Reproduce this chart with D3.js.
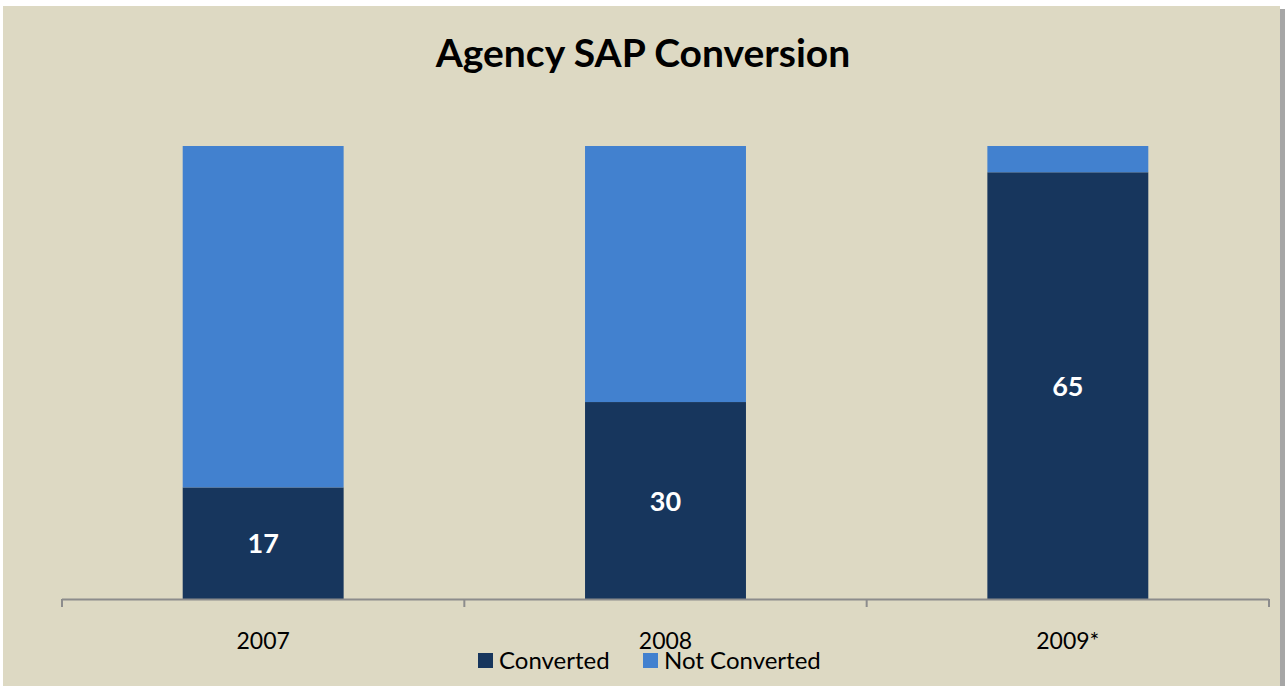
<!DOCTYPE html>
<html><head><meta charset="utf-8">
<script src="https://cdn.jsdelivr.net/npm/d3@7"></script>
<style>
html,body{margin:0;padding:0;background:#fff;}
svg{display:block;}
</style></head><body>
<svg id="chart" width="1285" height="686"></svg>
<script>
const categories = ["2007", "2008", "2009*"];
const converted = [17, 30, 65];
const notConverted = [52, 39, 4];
const seriesNames = ["Converted", "Not Converted"];
const colors = ["#17365D", "#4281CF"];

const svg = d3.select("#chart");
// panel background with shadow
svg.append("rect").attr("x", 1279).attr("y", 9).attr("width", 6).attr("height", 677).attr("fill", "#a6a6a6");
svg.append("rect").attr("x", 3).attr("y", 6).attr("width", 1277).attr("height", 680).attr("fill", "#DDD9C3");

const font = "Lato, 'Open Sans', sans-serif";
svg.append("text").attr("x", 643).attr("y", 67).attr("text-anchor", "middle")
  .attr("font-family", font).attr("font-weight", "bold").attr("font-size", 39).attr("fill", "#000")
  .text("Agency SAP Conversion");

const x = d3.scaleBand().domain(categories).range([62, 1269]).paddingInner(0.6).paddingOuter(0.3);
const y = d3.scaleLinear().domain([0, 69]).range([599, 146]);

const data = categories.map((c, i) => ({cat: c, Converted: converted[i], "Not Converted": notConverted[i]}));
const stack = d3.stack().keys(seriesNames)(data);

svg.append("g").selectAll("g").data(stack).join("g").attr("fill", (d, i) => colors[i])
  .selectAll("rect").data(d => d).join("rect")
  .attr("x", d => x(d.data.cat)).attr("width", x.bandwidth())
  .attr("y", d => y(d[1])).attr("height", d => y(d[0]) - y(d[1]));

// labels
svg.append("g").selectAll("text").data(stack[0]).join("text")
  .attr("x", d => x(d.data.cat) + x.bandwidth() / 2)
  .attr("y", d => (y(d[0]) + y(d[1])) / 2 + 10)
  .attr("text-anchor", "middle").attr("font-family", font).attr("font-weight", "bold")
  .attr("font-size", 27).attr("fill", "#fff").text(d => d.data.Converted);

// axis
const xOuter = d3.scaleBand().domain(categories).range([62, 1269]);
const axisG = svg.append("g");
axisG.append("line").attr("x1", 62).attr("x2", 1269).attr("y1", 599.5).attr("y2", 599.5)
  .attr("stroke", "#8c8c8c").attr("stroke-width", 2);
const tickPos = categories.map(c => xOuter(c)).concat([xOuter.range()[1]]);
axisG.selectAll("line.tick").data(tickPos).join("line").attr("class", "tick")
  .attr("x1", d => d).attr("x2", d => d).attr("y1", 599).attr("y2", 607)
  .attr("stroke", "#8c8c8c").attr("stroke-width", 2);
axisG.selectAll("text").data(categories).join("text")
  .attr("x", d => xOuter(d) + xOuter.bandwidth() / 2).attr("y", 649)
  .attr("text-anchor", "middle").attr("font-family", font).attr("font-size", 23).attr("fill", "#000")
  .text(d => d);

// legend
const legendX = [478, 643];
const lg = svg.append("g");
seriesNames.forEach((s, i) => {
  lg.append("rect").attr("x", legendX[i]).attr("y", 653).attr("width", 15).attr("height", 15).attr("fill", colors[i]);
  lg.append("text").attr("x", legendX[i] + 21).attr("y", 669).attr("font-family", font)
    .attr("font-size", 24).attr("fill", "#000").text(s);
});
</script>
</body></html>
